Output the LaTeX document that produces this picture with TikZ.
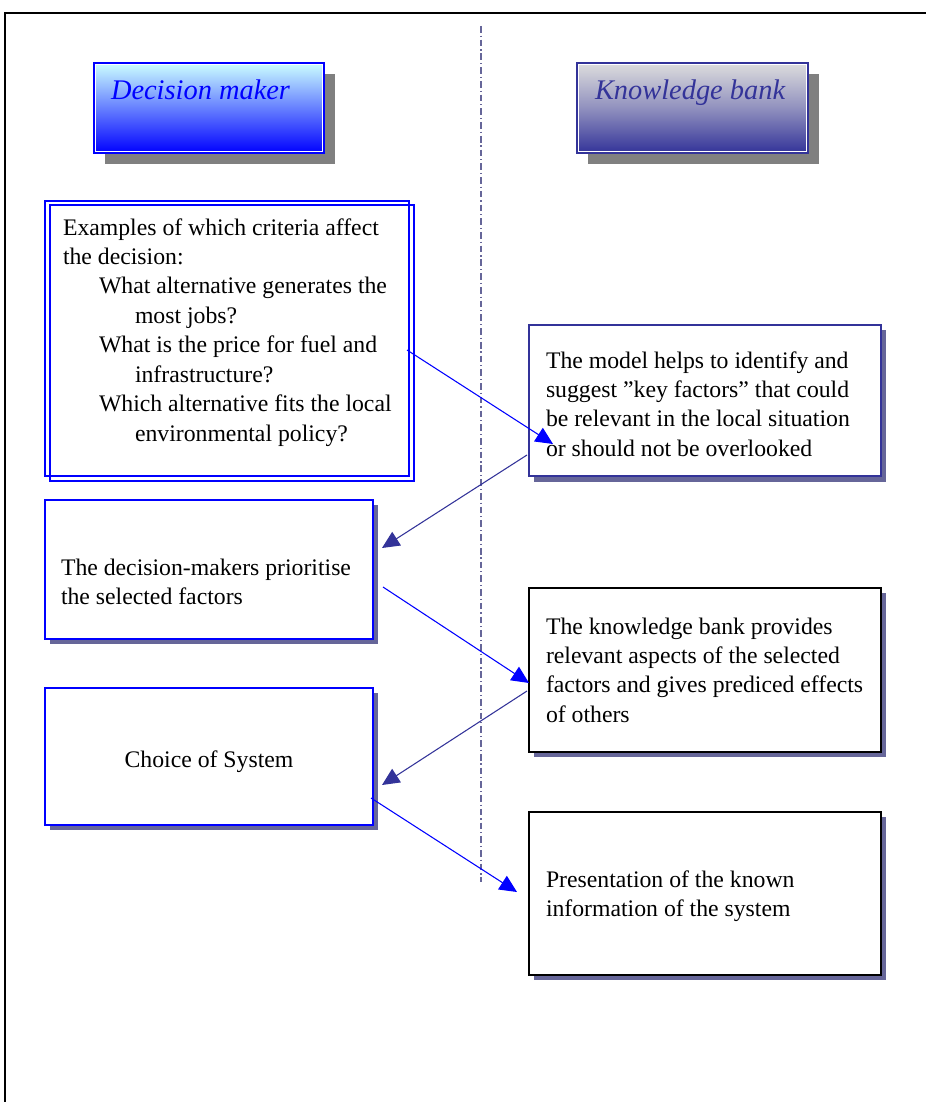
\documentclass[tikz,border=0pt]{standalone}
\usepackage{fontspec}
\setmainfont{Liberation Serif}
\usetikzlibrary{arrows.meta,calc}
\definecolor{dblue}{HTML}{333399}
\definecolor{shblue}{HTML}{666699}
\definecolor{lcyan}{HTML}{CCFFFF}
\definecolor{lgray}{HTML}{DDDDDD}
\begin{document}
\begin{tikzpicture}[x=0.75pt,y=-0.75pt,
  sz/.style 2 args={minimum width=#1*0.75pt, minimum height=#2*0.75pt},
  box/.style={draw, line width=1.1pt, inner sep=0pt, outer sep=0pt, anchor=north west, fill=white},
  hbox/.style={draw, line width=1.1pt, inner sep=0pt, outer sep=0pt, anchor=north west},
  txt/.style={anchor=base west, inner sep=0pt, outer sep=0pt, font=\fontsize{17.8}{22.1}\selectfont},
  hdr/.style={anchor=base west, inner sep=0pt, outer sep=0pt, font=\fontsize{21.3}{25}\selectfont\itshape},
  link/.style={line width=0.8pt, -{Triangle[length=13pt,width=12pt]}}]
\useasboundingbox (0,0) rectangle (925,1102);
% frame
\draw[line width=1.6pt] (930,13) -- (5,13) -- (5,1106);
% divider
\draw[shblue, line width=0.8pt, dash pattern=on 5pt off 2.2pt on 0.9pt off 2.2pt] (481,26) -- (481,882);
% header boxes
\fill[gray] (105,74) rectangle (335,164);
\node[hbox, sz={230}{90}, draw=blue, top color=lcyan, bottom color=blue, middle color=blue!50!lcyan] (dm) at (94,63) {};
\draw[white, line width=0.5pt] ($(dm.north west)+(1.5,1.5)$) rectangle ($(dm.south east)+(-1.5,-1.5)$);
\node[hdr, text=blue] (dmt) at (111,100) {Decision maker};
\fill[gray] (588,74) rectangle (819,164);
\node[hbox, sz={231}{90}, draw=dblue, top color=lgray, bottom color=dblue, middle color=dblue!45!lgray] (kb) at (577,63) {};
\draw[white, line width=0.5pt] ($(kb.north west)+(1.5,1.5)$) rectangle ($(kb.south east)+(-1.5,-1.5)$);
\node[hdr, text=dblue] (kbt) at (595,100) {Knowledge bank};
% examples box (double)
\node[box, sz={364}{275}, draw=blue, fill=none, line width=0.9pt] (ex) at (45,201) {};
\node[box, sz={364}{276}, draw=blue, fill=none, line width=0.9pt] (ex2) at (50,205) {};
\node[txt] (ext) at (63,235) {\parbox[t]{340pt}{Examples of which criteria affect\\
the decision:\\
\hspace*{27pt}What alternative generates the\\
\hspace*{54pt}most jobs?\\
\hspace*{27pt}What is the price for fuel and\\
\hspace*{54pt}infrastructure?\\
\hspace*{27pt}Which alternative fits the local\\
\hspace*{54pt}environmental policy?}};
% decision-makers box
\fill[shblue] (50,505) rectangle (378,644);
\node[box, sz={328}{139}, draw=blue] (dmk) at (45,500) {};
\node[txt] (dmkt) at (61,575) {\parbox[t]{300pt}{The decision-makers prioritise\\the selected factors}};
% choice box
\fill[shblue] (50,693) rectangle (378,830);
\node[box, sz={328}{137}, draw=blue] (ch) at (45,688) {};
\node[txt, anchor=base] (cht) at (209,767) {Choice of System};
% right boxes
\fill[shblue] (534,330) rectangle (886,482);
\node[box, sz={352}{151}, draw=dblue] (k1) at (529,325) {};
\node[txt] (k1t) at (546,368) {\parbox[t]{330pt}{The model helps to identify and\\suggest ”key factors” that could\\be relevant in the local situation\\or should not be overlooked}};
\fill[shblue] (534,593) rectangle (886,757);
\node[box, sz={352}{164}, draw=black] (k2) at (529,588) {};
\node[txt] (k2t) at (546,634) {\parbox[t]{330pt}{The knowledge bank provides\\relevant aspects of the selected\\factors and gives prediced effects\\of others}};
\fill[shblue] (534,817) rectangle (886,980);
\node[box, sz={352}{163}, draw=black] (k3) at (529,812) {};
\node[txt] (k3t) at (546,887) {\parbox[t]{330pt}{Presentation of the known\\information of the system}};
% connectors
\draw[link, blue] ($(ex.north east)+(-2,149)$) -- ($(k1.north west)+(24,119)$);
\draw[link, dblue] ($(k1.north west)+(-2,130)$) -- ($(dmk.north east)+(9,48)$);
\draw[link, blue] ($(dmk.north east)+(10,87)$) -- ($(k2.north west)+(0,95)$);
\draw[link, dblue] ($(k2.north west)+(-2,103)$) -- ($(ch.north east)+(9,97)$);
\draw[link, blue] ($(ch.north east)+(-2,110)$) -- ($(k3.north west)+(-12,80)$);
\end{tikzpicture}
\end{document}
